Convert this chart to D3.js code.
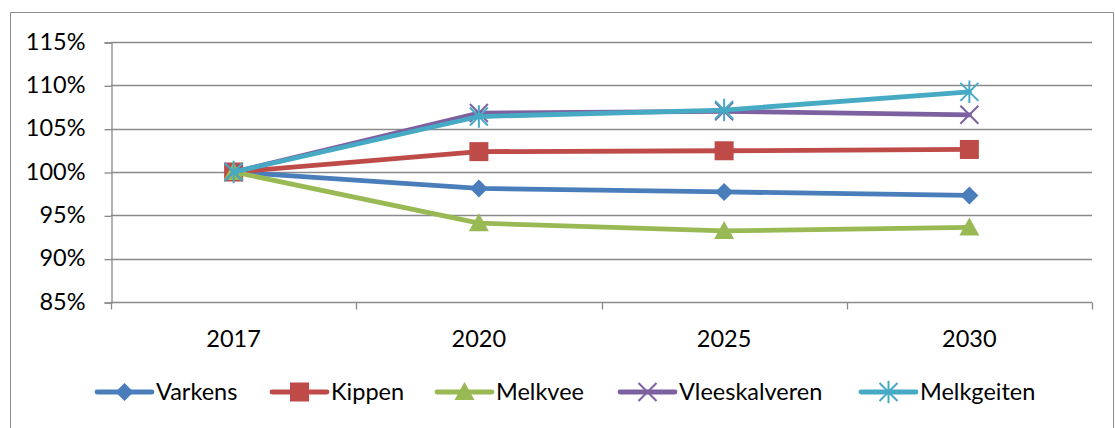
<!DOCTYPE html>
<html>
<head>
<meta charset="utf-8">
<script src="https://cdn.jsdelivr.net/npm/d3@7"></script>
<style>
  html, body { margin: 0; padding: 0; background: #fff; }
  svg { display: block; font-family: Lato, "Open Sans", sans-serif; }
</style>
</head>
<body>
<svg id="chart" width="1115" height="428"></svg>
<script>
// Index values (2017 = 100%)
const years = ["2017", "2020", "2025", "2030"];
const varkens = [100, 98.1, 97.7, 97.3];
const kippen = [100, 102.35, 102.45, 102.6];
const melkvee = [100, 94.1, 93.2, 93.6];
const vleeskalveren = [100, 106.8, 107.0, 106.6];
const melkgeiten = [100, 106.4, 107.15, 109.25];
const yTicks = [85, 90, 95, 100, 105, 110, 115];

const series = [
  { name: "Varkens", values: varkens, color: "#4A7EBB", marker: "diamond" },
  { name: "Kippen", values: kippen, color: "#BE4B48", marker: "square" },
  { name: "Melkvee", values: melkvee, color: "#98B954", marker: "triangle" },
  { name: "Vleeskalveren", values: vleeskalveren, color: "#7D60A0", marker: "cross" },
  { name: "Melkgeiten", values: melkgeiten, color: "#46AAC5", marker: "star" }
];

const fontSize = "23.5px";
const svg = d3.select("#chart");
const plot = { left: 111, right: 1092, top: 42, bottom: 302 };

// outer frame
svg.append("path")
  .attr("d", `M10.5,430 V12.5 H1113.5 V430`)
  .attr("fill", "none").attr("stroke", "#8c8c8c").attr("stroke-width", 1);

const x = d3.scaleBand().domain(years).range([plot.left, plot.right]);
const y = d3.scaleLinear().domain([85, 115]).range([plot.bottom, plot.top]);

// horizontal gridlines
svg.append("g").selectAll("line").data(yTicks.filter(t => t > 85)).join("line")
  .attr("x1", plot.left).attr("x2", plot.right)
  .attr("y1", d => Math.round(y(d)) + 0.5).attr("y2", d => Math.round(y(d)) + 0.5)
  .attr("stroke", "#8a8a8a").attr("stroke-width", 1.3);

// y axis
const yAxis = d3.axisLeft(y).tickValues(yTicks).tickFormat(d => d + "%").tickSize(7).tickPadding(19);
const gy = svg.append("g").attr("transform", `translate(${plot.left + 0.5},0.5)`).call(yAxis);
gy.select(".domain").attr("stroke", "#8a8a8a").attr("stroke-width", 1.3);
gy.selectAll(".tick line").attr("stroke", "#8a8a8a").attr("stroke-width", 1.3);
gy.selectAll(".tick text").attr("fill", "#000").attr("dy", "0.28em")
  .style("font-size", fontSize).style("font-family", "Lato, sans-serif");

// x axis with ticks between categories
const gx = svg.append("g").attr("transform", `translate(0,${plot.bottom + 0.5})`);
gx.append("line").attr("x1", plot.left).attr("x2", plot.right)
  .attr("stroke", "#8a8a8a").attr("stroke-width", 1.3);
const bounds = years.map(d => x(d)).concat([x(years[years.length - 1]) + x.bandwidth()]);
gx.selectAll("line.tk").data(bounds).join("line").attr("class", "tk")
  .attr("x1", d => Math.round(d) + 0.5).attr("x2", d => Math.round(d) + 0.5)
  .attr("y1", 0).attr("y2", 7)
  .attr("stroke", "#8a8a8a").attr("stroke-width", 1.3);
gx.selectAll("text").data(years).join("text")
  .attr("x", d => x(d) + x.bandwidth() / 2).attr("y", 44)
  .attr("text-anchor", "middle").attr("fill", "#000")
  .style("font-size", fontSize).text(d => d);

// marker drawing
function drawMarker(g, type, color, cx, cy, scale = 1) {
  const s = scale;
  if (type === "diamond") {
    g.append("path").attr("d", `M${cx},${cy - 9 * s} L${cx + 9 * s},${cy} L${cx},${cy + 9 * s} L${cx - 9 * s},${cy} Z`)
      .attr("fill", color);
  } else if (type === "square") {
    g.append("rect").attr("x", cx - 9.5 * s).attr("y", cy - 9.5 * s)
      .attr("width", 19 * s).attr("height", 19 * s).attr("fill", color);
  } else if (type === "triangle") {
    g.append("path").attr("d", `M${cx},${cy - 10 * s} L${cx + 10 * s},${cy + 8 * s} L${cx - 10 * s},${cy + 8 * s} Z`)
      .attr("fill", color);
  } else if (type === "cross") {
    const r = 9 * s;
    g.append("path").attr("d", `M${cx - r},${cy - r} L${cx + r},${cy + r} M${cx - r},${cy + r} L${cx + r},${cy - r}`)
      .attr("stroke", color).attr("stroke-width", 2).attr("fill", "none");
  } else if (type === "star") {
    const r = 9 * s;
    g.append("path").attr("d",
      `M${cx - r},${cy - r} L${cx + r},${cy + r} M${cx - r},${cy + r} L${cx + r},${cy - r} M${cx},${cy - r * 1.25} L${cx},${cy + r * 1.25}`)
      .attr("stroke", color).attr("stroke-width", 2).attr("fill", "none");
  }
}

const cxOf = d => x(d) + x.bandwidth() / 2;
const line = d3.line().x((v, i) => cxOf(years[i])).y(v => y(v));

series.forEach(s => {
  const g = svg.append("g");
  g.append("path").datum(s.values).attr("d", line)
    .attr("fill", "none").attr("stroke", s.color).attr("stroke-width", 4.8)
    .attr("stroke-linejoin", "round").attr("stroke-linecap", "round");
  s.values.forEach((v, i) => drawMarker(g, s.marker, s.color, cxOf(years[i]), y(v)));
});

// legend
const legendY = 392;
const legendX = [97, 272, 437, 620, 861];
series.forEach((s, i) => {
  const g = svg.append("g");
  const x0 = legendX[i];
  g.append("line").attr("x1", x0).attr("x2", x0 + 55).attr("y1", legendY).attr("y2", legendY)
    .attr("stroke", s.color).attr("stroke-width", 4.8).attr("stroke-linecap", "round");
  drawMarker(g, s.marker, s.color, x0 + 27.5, legendY);
  g.append("text").attr("x", x0 + 59).attr("y", legendY + 8)
    .attr("fill", "#000").style("font-size", fontSize).text(s.name);
});
</script>
</body>
</html>
